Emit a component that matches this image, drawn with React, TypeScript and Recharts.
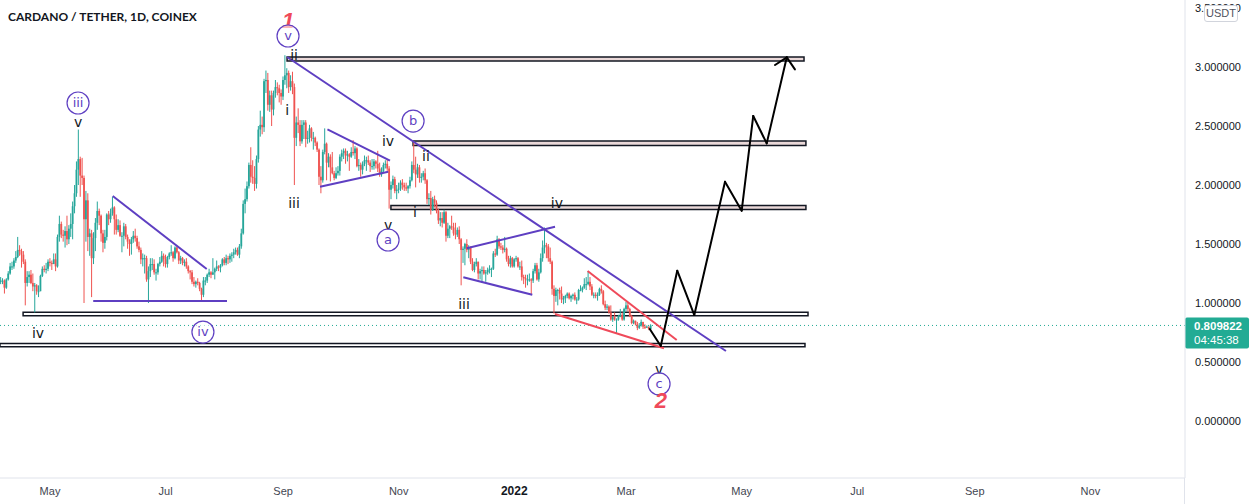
import React from "react";
import {
  Bar,
  ComposedChart,
  ReferenceArea,
  ReferenceDot,
  ReferenceLine,
  XAxis,
  YAxis,
} from "recharts";

const FONT = "'Liberation Sans', Arial, sans-serif";
const LABEL_FONT = "'DejaVu Sans', Verdana, sans-serif";

const DAY_MS = 86400000;
const EPOCH = Date.UTC(2021, 4, 1); // x axis counts days from 1 May 2021
const dayOf = (iso: string) =>
  Math.round((Date.parse(`${iso}T00:00:00Z`) - EPOCH) / DAY_MS);

const START_DATE = "2021-04-05";
const FIRST_OPEN = 1.18;
const LAST_PRICE = 0.809822;

// ADA/USDT daily candles, one month per row (5 Apr 2021 .. 14 Mar 2022)
const closes = [
  1.19, 1.19, 1.13, 1.2, 1.25, 1.31, 1.31, 1.36, 1.39, 1.45, 1.44, 1.41, 1.35, 1.17, 1.22, 1.24, 1.17, 1.14, 1.15, 1.1, 1.1, 1.23, 1.29, 1.28, 1.29, 1.35,
  1.34, 1.33, 1.37, 1.31, 1.56, 1.67, 1.58, 1.57, 1.61, 1.54, 1.63, 1.67, 1.82, 1.93, 2.13, 2.22, 2.08, 2.06, 1.71, 1.87, 1.56, 1.59, 1.38, 1.55, 1.68, 1.78, 1.74, 1.59, 1.51, 1.56, 1.75,
  1.71, 1.76, 1.81, 1.71, 1.62, 1.66, 1.57, 1.57, 1.65, 1.56, 1.52, 1.5, 1.54, 1.57, 1.55, 1.48, 1.45, 1.37, 1.38, 1.38, 1.2, 1.27, 1.33, 1.33, 1.26, 1.26, 1.33, 1.35, 1.4, 1.37,
  1.33, 1.39, 1.42, 1.43, 1.38, 1.47, 1.43, 1.36, 1.38, 1.34, 1.35, 1.31, 1.27, 1.26, 1.18, 1.16, 1.18, 1.17, 1.12, 1.07, 1.19, 1.19, 1.24, 1.26, 1.24, 1.26, 1.29, 1.31, 1.3, 1.32, 1.37,
  1.34, 1.38, 1.37, 1.4, 1.41, 1.43, 1.45, 1.41, 1.48, 1.59, 1.84, 1.88, 1.99, 2.17, 2.07, 2.06, 2.01, 2.22, 2.47, 2.51, 2.49, 2.88, 2.89, 2.68, 2.76, 2.64, 2.78, 2.83, 2.82, 2.78, 2.75,
  2.89, 2.93, 2.95, 2.83, 2.88, 2.83, 2.4, 2.53, 2.51, 2.37, 2.51, 2.53, 2.39, 2.4, 2.48, 2.4, 2.4, 2.36, 2.3, 2.07, 2.04, 2.28, 2.35, 2.19, 2.24, 2.15, 2.1, 2.06, 2.1, 2.12,
  2.24, 2.27, 2.29, 2.25, 2.26, 2.24, 2.28, 2.27, 2.31, 2.16, 2.17, 2.13, 2.18, 2.21, 2.21, 2.19, 2.16, 2.16, 2.2, 2.18, 2.14, 2.09, 2.12, 2.17, 2.18, 2.14, 1.96, 2.0, 2.05, 1.95, 1.96,
  1.97, 2.02, 2.0, 1.98, 1.97, 1.99, 2.04, 2.17, 2.13, 2.09, 2.15, 2.06, 2.07, 2.1, 2.04, 1.88, 1.89, 1.79, 1.88, 1.85, 1.78, 1.7, 1.72, 1.68, 1.77, 1.57, 1.63, 1.65, 1.64, 1.59,
  1.58, 1.62, 1.54, 1.45, 1.46, 1.5, 1.45, 1.47, 1.35, 1.28, 1.33, 1.35, 1.25, 1.27, 1.28, 1.25, 1.26, 1.28, 1.29, 1.29, 1.42, 1.41, 1.54, 1.48, 1.47, 1.45, 1.46, 1.37, 1.33, 1.38, 1.31,
  1.37, 1.38, 1.31, 1.31, 1.22, 1.21, 1.2, 1.2, 1.2, 1.19, 1.27, 1.32, 1.2, 1.26, 1.38, 1.47, 1.49, 1.48, 1.38, 1.35, 1.12, 1.06, 1.11, 1.11, 1.08, 1.03, 1.04, 1.06, 1.08, 1.04, 1.06,
  1.07, 1.03, 1.03, 1.11, 1.11, 1.13, 1.16, 1.16, 1.18, 1.14, 1.07, 1.07, 1.06, 1.07, 1.12, 1.1, 0.99, 0.96, 0.97, 0.92, 0.86, 0.88, 0.86, 0.86, 0.89, 0.9, 0.86, 0.95,
  0.98, 0.95, 0.89, 0.83, 0.85, 0.82, 0.79, 0.81, 0.84, 0.8, 0.79, 0.8, 0.78, 0.809822,
];

const highs = [
  1.22, 1.21, 1.2, 1.21, 1.27, 1.34, 1.35, 1.38, 1.44, 1.56, 1.49, 1.46, 1.44, 1.37, 1.27, 1.27, 1.28, 1.25, 1.17, 1.16, 1.15, 1.24, 1.31, 1.32, 1.34, 1.37,
  1.38, 1.36, 1.42, 1.42, 1.58, 1.74, 1.69, 1.62, 1.65, 1.74, 1.66, 1.76, 1.86, 2.0, 2.2, 2.47, 2.24, 2.23, 2.08, 1.95, 1.93, 1.63, 1.62, 1.6, 1.72, 1.86, 1.8, 1.75, 1.62, 1.62, 1.76,
  1.78, 1.8, 1.9, 1.82, 1.75, 1.71, 1.7, 1.6, 1.68, 1.67, 1.58, 1.54, 1.56, 1.61, 1.63, 1.57, 1.52, 1.47, 1.42, 1.41, 1.4, 1.31, 1.38, 1.38, 1.37, 1.29, 1.34, 1.39, 1.44, 1.42,
  1.41, 1.4, 1.43, 1.49, 1.44, 1.48, 1.48, 1.44, 1.4, 1.39, 1.37, 1.38, 1.32, 1.28, 1.28, 1.22, 1.19, 1.21, 1.18, 1.13, 1.22, 1.22, 1.25, 1.29, 1.27, 1.38, 1.3, 1.36, 1.32, 1.33, 1.38,
  1.39, 1.41, 1.4, 1.42, 1.43, 1.46, 1.47, 1.47, 1.5, 1.63, 1.87, 1.97, 2.03, 2.19, 2.32, 2.21, 2.16, 2.25, 2.5, 2.63, 2.58, 2.9, 2.97, 2.95, 2.8, 2.8, 2.8, 2.89, 2.87, 2.85, 2.81,
  2.92, 3.1, 2.99, 2.97, 2.93, 2.96, 2.86, 2.58, 2.65, 2.55, 2.55, 2.55, 2.55, 2.46, 2.51, 2.49, 2.45, 2.41, 2.37, 2.31, 2.16, 2.3, 2.48, 2.36, 2.27, 2.26, 2.28, 2.12, 2.15, 2.16,
  2.26, 2.3, 2.31, 2.31, 2.29, 2.27, 2.32, 2.38, 2.33, 2.32, 2.22, 2.19, 2.2, 2.25, 2.24, 2.25, 2.21, 2.22, 2.22, 2.21, 2.29, 2.19, 2.15, 2.19, 2.21, 2.22, 2.16, 2.03, 2.08, 2.07, 2.0,
  2.02, 2.04, 2.05, 2.02, 2.02, 2.0, 2.07, 2.2, 2.37, 2.24, 2.18, 2.17, 2.1, 2.12, 2.14, 2.05, 1.93, 1.95, 1.9, 1.91, 1.87, 1.8, 1.77, 1.77, 1.79, 1.78, 1.68, 1.66, 1.74, 1.68,
  1.68, 1.64, 1.65, 1.55, 1.48, 1.51, 1.54, 1.49, 1.48, 1.38, 1.35, 1.38, 1.35, 1.29, 1.31, 1.31, 1.28, 1.3, 1.32, 1.3, 1.44, 1.46, 1.57, 1.55, 1.51, 1.49, 1.56, 1.47, 1.4, 1.4, 1.39,
  1.38, 1.4, 1.39, 1.35, 1.36, 1.24, 1.24, 1.24, 1.25, 1.21, 1.29, 1.34, 1.34, 1.29, 1.42, 1.53, 1.64, 1.51, 1.5, 1.47, 1.36, 1.15, 1.13, 1.12, 1.13, 1.14, 1.06, 1.07, 1.09, 1.09, 1.07,
  1.08, 1.09, 1.05, 1.12, 1.15, 1.14, 1.21, 1.22, 1.27, 1.22, 1.16, 1.09, 1.09, 1.09, 1.13, 1.15, 1.11, 1.02, 0.99, 0.98, 0.98, 0.89, 0.92, 0.87, 0.9, 0.95, 0.92, 0.96,
  1.01, 1.0, 0.96, 0.9, 0.86, 0.85, 0.84, 0.83, 0.86, 0.84, 0.82, 0.81, 0.8, 0.82,
];

const lows = [
  1.16, 1.16, 1.08, 1.12, 1.19, 1.24, 1.28, 1.29, 1.34, 1.38, 1.4, 1.3, 1.33, 0.98, 1.14, 1.17, 1.16, 1.1, 0.92, 1.07, 1.05, 1.1, 1.22, 1.26, 1.25, 1.27,
  1.31, 1.28, 1.33, 1.27, 1.3, 1.52, 1.55, 1.52, 1.47, 1.49, 1.5, 1.56, 1.54, 1.76, 1.9, 2.0, 1.9, 2.0, 1.0, 1.52, 1.44, 1.4, 1.05, 1.33, 1.44, 1.62, 1.66, 1.52, 1.43, 1.46, 1.53,
  1.66, 1.68, 1.74, 1.58, 1.58, 1.6, 1.56, 1.43, 1.48, 1.54, 1.46, 1.4, 1.41, 1.51, 1.52, 1.46, 1.43, 1.33, 1.31, 1.25, 1.18, 1.0, 1.22, 1.28, 1.24, 1.19, 1.24, 1.31, 1.34, 1.31,
  1.3, 1.3, 1.37, 1.4, 1.35, 1.37, 1.42, 1.33, 1.33, 1.32, 1.31, 1.29, 1.25, 1.2, 1.16, 1.14, 1.13, 1.15, 1.1, 1.02, 1.05, 1.15, 1.17, 1.22, 1.21, 1.24, 1.2, 1.27, 1.27, 1.26, 1.31,
  1.32, 1.32, 1.33, 1.34, 1.35, 1.38, 1.41, 1.4, 1.38, 1.46, 1.58, 1.76, 1.86, 1.97, 2.02, 2.01, 1.95, 1.97, 2.19, 2.41, 2.43, 2.45, 2.78, 2.63, 2.62, 2.5, 2.59, 2.74, 2.76, 2.7, 2.68,
  2.72, 2.85, 2.82, 2.78, 2.8, 2.77, 2.0, 2.33, 2.44, 2.33, 2.35, 2.39, 2.32, 2.35, 2.36, 2.37, 2.3, 2.33, 2.28, 2.0, 1.93, 2.02, 2.26, 2.04, 2.15, 2.03, 2.09, 2.04, 2.05, 2.08,
  2.08, 2.2, 2.22, 2.18, 2.2, 2.12, 2.23, 2.25, 2.22, 2.15, 2.12, 2.07, 2.09, 2.16, 2.12, 2.17, 2.11, 2.13, 2.13, 2.14, 2.11, 2.07, 2.07, 2.1, 2.14, 2.12, 1.8, 1.88, 1.97, 1.93, 1.88,
  1.93, 1.95, 1.96, 1.95, 1.95, 1.93, 1.97, 2.03, 2.1, 1.98, 2.06, 2.02, 2.02, 2.04, 2.01, 1.84, 1.83, 1.75, 1.78, 1.81, 1.76, 1.67, 1.65, 1.64, 1.67, 1.52, 1.55, 1.55, 1.62, 1.57,
  1.54, 1.56, 1.5, 1.15, 1.34, 1.32, 1.43, 1.38, 1.33, 1.27, 1.26, 1.31, 1.2, 1.2, 1.17, 1.24, 1.18, 1.24, 1.25, 1.22, 1.28, 1.39, 1.4, 1.46, 1.45, 1.42, 1.43, 1.35, 1.31, 1.3, 1.3,
  1.3, 1.35, 1.3, 1.28, 1.19, 1.16, 1.13, 1.15, 1.18, 1.07, 1.17, 1.25, 1.19, 1.18, 1.25, 1.35, 1.42, 1.38, 1.35, 1.33, 1.07, 0.91, 1.01, 0.98, 1.03, 1.0, 0.99, 1.0, 1.04, 1.03, 1.01,
  1.03, 1.02, 0.99, 1.02, 1.1, 1.09, 1.12, 1.11, 1.15, 1.11, 1.06, 1.04, 1.04, 1.02, 1.06, 1.08, 0.98, 0.94, 0.94, 0.91, 0.85, 0.84, 0.85, 0.745, 0.85, 0.88, 0.85, 0.85,
  0.93, 0.93, 0.88, 0.82, 0.82, 0.81, 0.77, 0.78, 0.8, 0.78, 0.78, 0.79, 0.77, 0.77,
];

const monthTicks = [
  "2021-05-01", "2021-07-01", "2021-09-01", "2021-11-01", "2022-01-01",
  "2022-03-01", "2022-05-01", "2022-07-01", "2022-09-01", "2022-11-01",
];
const monthLabels = ["May", "Jul", "Sep", "Nov", "2022", "Mar", "May", "Jul", "Sep", "Nov"];
const priceTicks = [0, 0.5, 1, 1.5, 2, 2.5, 3, 3.5];

// support / resistance boxes: [from day, to day, bottom price, top price]
const shadedZones = [
  [125.1, 397.9, 3.051, 3.085],
  [191.6, 398.9, 2.335, 2.373],
  [179.9, 398.9, 1.792, 1.826],
];
const openZones = [
  [-14.2, 400.0, 0.893, 0.922],
  [-26.4, 398.4, 0.63, 0.656],
];

// trend lines: [day1, price1, day2, price2]
const purpleLines = [
  [125.1, 3.085, 356.7, 0.593],
  [33.1, 1.907, 82.7, 1.288],
  [22.8, 1.017, 93.4, 1.017],
  [146.4, 2.472, 179.4, 2.206],
  [142.5, 1.986, 178.5, 2.113],
  [219.9, 1.464, 266.5, 1.647],
  [218.1, 1.218, 254.5, 1.07],
];
const redLines = [
  [283.7, 1.271, 330.7, 0.686],
  [266.5, 0.907, 324.0, 0.616],
];

// projected path (day, price) and its arrow head
const projectionDays = [316.5, 322.3, 331.0, 340.0, 356.2, 365.0, 371.1, 378.2, 388.8];
const projectionPrices = [0.78, 0.636, 1.274, 0.898, 2.028, 1.782, 2.585, 2.353, 3.082];
const arrowDays = [382.6, 388.8, 393.1];
const arrowPrices = [3.017, 3.082, 2.98];

type Wave = { t: number; p: number; text: string; ring?: boolean; red?: boolean };
const waveLabels: Wave[] = [
  { t: 14.8, p: 2.695, text: "iii", ring: true },
  { t: 14.8, p: 2.53, text: "v" },
  { t: -6.3, p: 0.745, text: "iv" },
  { t: 80.7, p: 0.754, text: "iv", ring: true },
  { t: 125.6, p: 3.4, text: "1", red: true },
  { t: 125.6, p: 3.263, text: "v", ring: true },
  { t: 128.8, p: 3.1, text: "ii" },
  { t: 125.1, p: 2.636, text: "i" },
  { t: 128.8, p: 1.847, text: "iii" },
  { t: 178.4, p: 2.373, text: "iv" },
  { t: 191.6, p: 2.542, text: "b", ring: true },
  { t: 198.4, p: 2.246, text: "ii" },
  { t: 192.6, p: 1.771, text: "i" },
  { t: 178.4, p: 1.661, text: "v" },
  { t: 178.4, p: 1.534, text: "a", ring: true },
  { t: 267.5, p: 1.847, text: "iv" },
  { t: 218.5, p: 0.992, text: "iii" },
  { t: 321.4, p: 0.441, text: "v" },
  { t: 321.4, p: 0.314, text: "c", ring: true },
  { t: 322.4, p: 0.18, text: "2", red: true },
];

const firstDay = dayOf(START_DATE);
const candles = closes.map((close, i) => {
  const open = i === 0 ? FIRST_OPEN : closes[i - 1];
  return { t: firstDay + i, open, close, high: highs[i], low: lows[i], range: [lows[i], highs[i]] };
});

const toSegments = (days: number[], prices: number[]) =>
  days.slice(1).map((d, i) => [days[i], prices[i], d, prices[i + 1]]);
const pathSegments = [
  ...toSegments(projectionDays, projectionPrices),
  ...toSegments(arrowDays, arrowPrices),
];

const UP = "#26a69a";
const DOWN = "#ef5350";
const PURPLE = "#5e3fc2";
const RED = "#ef4a5a";

function Candle(props: any) {
  const { x, y, width, height, payload } = props;
  if (x == null || y == null) return null;
  const top = Math.min(y, y + height);
  const h = Math.abs(height);
  const span = payload.high - payload.low || 1;
  const yOpen = top + ((payload.high - payload.open) / span) * h;
  const yClose = top + ((payload.high - payload.close) / span) * h;
  const color = payload.close >= payload.open ? UP : DOWN;
  const cx = x + width / 2;
  return (
    <g>
      <line x1={cx} x2={cx} y1={top} y2={top + h} stroke={color} strokeWidth={1} />
      <rect
        x={cx - 0.9}
        y={Math.min(yOpen, yClose)}
        width={1.8}
        height={Math.max(1, Math.abs(yOpen - yClose))}
        fill={color}
      />
    </g>
  );
}

function PriceTick({ x, y, payload }: any) {
  return (
    <text x={x + 2} y={y} dy={4} fill="#131722" fontSize={11} fontFamily={FONT} textAnchor="start">
      {Number(payload.value).toFixed(6)}
    </text>
  );
}

function TimeTick({ x, y, payload }: any) {
  const idx = monthTicks.findIndex((d) => dayOf(d) === payload.value);
  const label = monthLabels[idx] ?? "";
  const isYear = /^\d{4}$/.test(label);
  return (
    <text
      x={x}
      y={y}
      dy={9}
      textAnchor="middle"
      fill={isYear ? "#131722" : "#434651"}
      fontSize={isYear ? 12 : 11}
      fontWeight={isYear ? 700 : 400}
      fontFamily={FONT}
    >
      {label}
    </text>
  );
}

function WaveMark({ cx, cy, item }: { cx: number; cy: number; item: Wave }) {
  if (item.red) {
    return (
      <text x={cx} y={cy} dy={8} textAnchor="middle" fill={RED} fontSize={22} fontStyle="italic" fontWeight={700} fontFamily={FONT}>
        {item.text}
      </text>
    );
  }
  if (item.ring) {
    return (
      <g>
        <circle cx={cx} cy={cy} r={11} fill="#ffffff" fillOpacity={0.6} stroke={PURPLE} strokeWidth={1.2} />
        <text x={cx} y={cy} dy={4} textAnchor="middle" fill={PURPLE} fontSize={13} fontFamily={LABEL_FONT}>
          {item.text}
        </text>
      </g>
    );
  }
  return (
    <text x={cx} y={cy} dy={5} textAnchor="middle" fill="#131722" fontSize={14} fontFamily={LABEL_FONT}>
      {item.text}
    </text>
  );
}

function PriceTag(props: any) {
  const vb = props.viewBox || {};
  const x = (vb.x ?? 0) + (vb.width ?? 0);
  const y = vb.y ?? 0;
  return (
    <g>
      <rect x={x} y={y - 8} width={64} height={31} rx={2} fill="#22ab94" />
      <text x={x + 9} y={y + 5} fill="#ffffff" fontSize={11.5} fontWeight={700} fontFamily={FONT}>
        {LAST_PRICE.toFixed(6)}
      </text>
      <text x={x + 9} y={y + 19} fill="#ffffff" fontSize={11.5} fontFamily={FONT}>
        04:45:38
      </text>
    </g>
  );
}

export default function App() {
  return (
    <div style={{ position: "absolute", left: 0, top: 0, width: 1260, height: 504, background: "#ffffff", overflow: "hidden" }}>
      <ComposedChart width={1260} height={504} data={candles} margin={{ top: 0, right: 0, bottom: 0, left: 0 }}>
        <XAxis
          dataKey="t"
          type="number"
          domain={[-26.39, 598.94]}
          allowDataOverflow
          ticks={monthTicks.map(dayOf)}
          interval={0}
          tick={(p: any) => <TimeTick {...p} />}
          tickLine={false}
          axisLine={{ stroke: "#e0e3eb" }}
          height={26}
        />
        <YAxis
          orientation="right"
          type="number"
          domain={[-0.483, 3.568]}
          allowDataOverflow
          ticks={priceTicks}
          interval={0}
          tick={(p: any) => <PriceTick {...p} />}
          tickLine={false}
          axisLine={{ stroke: "#e0e3eb" }}
          width={75}
        />
        {shadedZones.map(([x1, x2, y1, y2], i) => (
          <ReferenceArea key={`s${i}`} x1={x1} x2={x2} y1={y1} y2={y2} fill="#ead8d8" fillOpacity={1} stroke="#131722" strokeWidth={1.5} ifOverflow="visible" />
        ))}
        {openZones.map(([x1, x2, y1, y2], i) => (
          <ReferenceArea key={`o${i}`} x1={x1} x2={x2} y1={y1} y2={y2} fill="#ffffff" fillOpacity={1} stroke="#131722" strokeWidth={1.5} ifOverflow="visible" />
        ))}
        <ReferenceLine
          y={LAST_PRICE}
          stroke="#22ab94"
          strokeDasharray="1 3"
          ifOverflow="visible"
          label={(p: any) => <PriceTag {...p} />}
        />
        <Bar dataKey="range" barSize={2} isAnimationActive={false} shape={(p: any) => <Candle {...p} />} />
        {purpleLines.map(([t1, p1, t2, p2], i) => (
          <ReferenceLine key={`p${i}`} segment={[{ x: t1, y: p1 }, { x: t2, y: p2 }]} stroke={PURPLE} strokeWidth={2} ifOverflow="visible" />
        ))}
        {redLines.map(([t1, p1, t2, p2], i) => (
          <ReferenceLine key={`r${i}`} segment={[{ x: t1, y: p1 }, { x: t2, y: p2 }]} stroke={RED} strokeWidth={2} ifOverflow="visible" />
        ))}
        {pathSegments.map(([t1, p1, t2, p2], i) => (
          <ReferenceLine
            key={`k${i}`}
            segment={[{ x: t1, y: p1 }, { x: t2, y: p2 }]}
            stroke="#000000"
            strokeWidth={2}
            strokeLinecap="round"
            ifOverflow="visible"
          />
        ))}
        {waveLabels.map((w, i) => (
          <ReferenceDot
            key={`w${i}`}
            x={w.t}
            y={w.p}
            r={0}
            ifOverflow="visible"
            shape={(p: any) => <WaveMark cx={p.cx} cy={p.cy} item={w} />}
          />
        ))}
      </ComposedChart>
      <div style={{ position: "absolute", left: 8, top: 9, fontFamily: "Lato, 'Open Sans', sans-serif", fontWeight: 700, fontSize: 12, color: "#131722" }}>
        CARDANO / TETHER, 1D, COINEX
      </div>
      <div style={{ position: "absolute", left: 1184, top: 478, width: 1, height: 26, background: "#e0e3eb" }} />
      <div
        style={{
          position: "absolute",
          left: 1204,
          top: 5,
          width: 34,
          height: 17,
          boxSizing: "border-box",
          border: "1px solid #d1d4dc",
          borderRadius: 3,
          background: "#ffffff",
          fontFamily: FONT,
          fontSize: 11,
          lineHeight: "15px",
          textAlign: "center",
          color: "#50535e",
        }}
      >
        USDT
      </div>
    </div>
  );
}
